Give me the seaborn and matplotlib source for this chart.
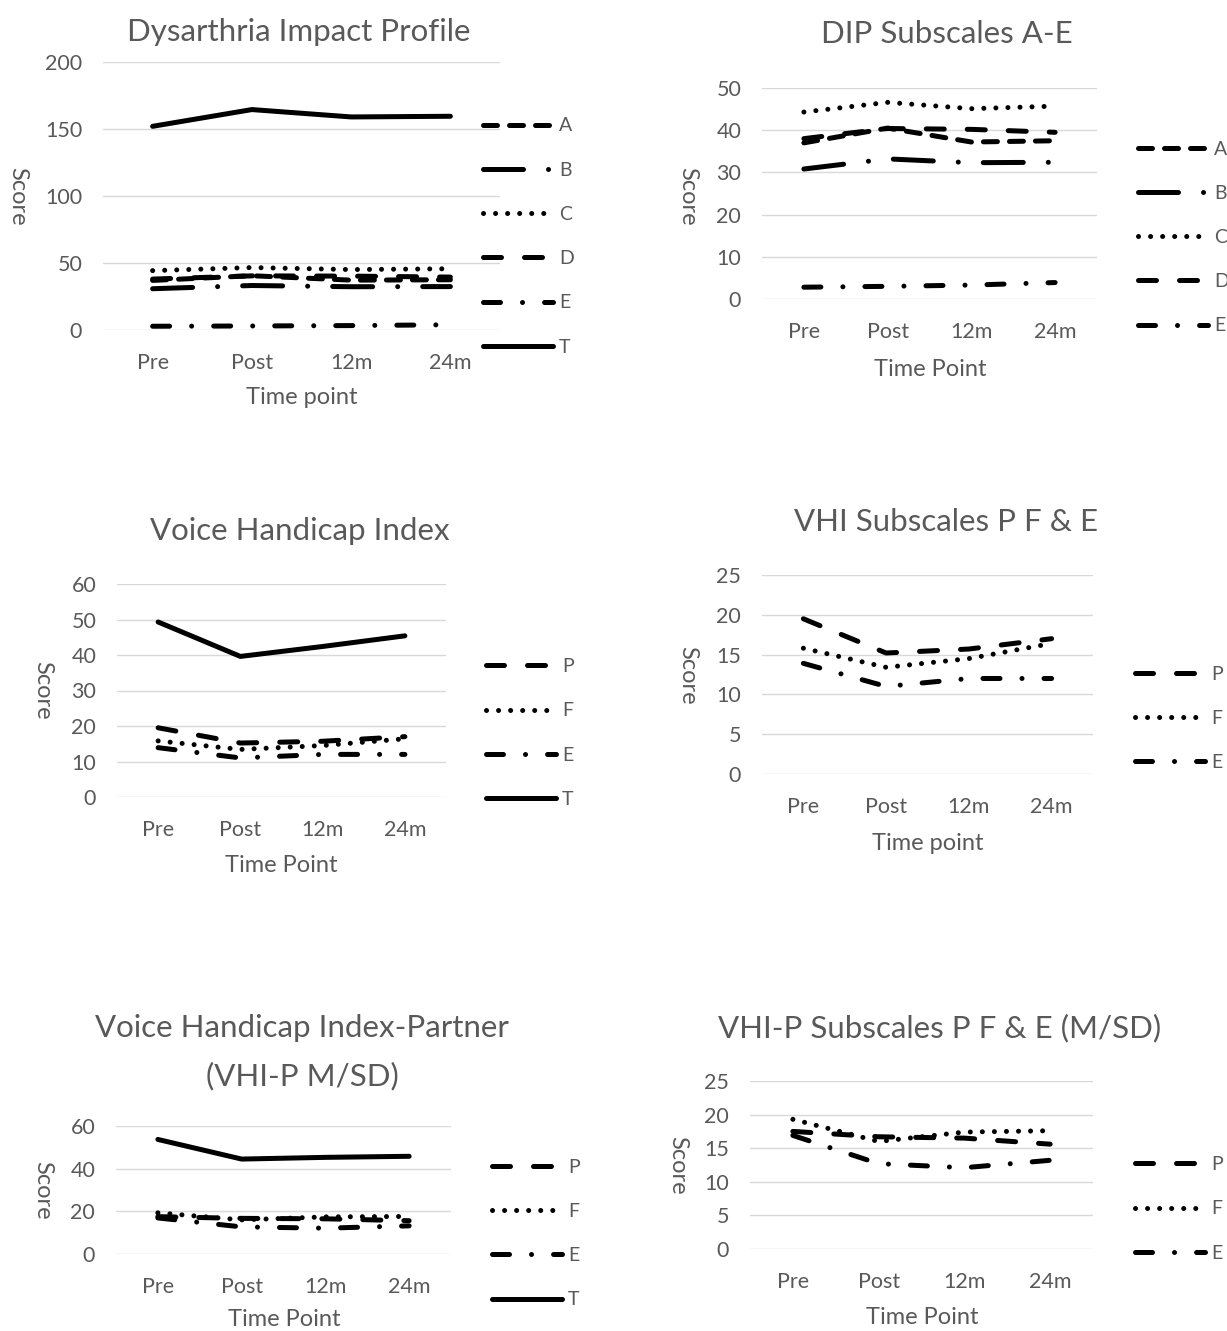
import matplotlib
matplotlib.use("Agg")
import matplotlib.pyplot as plt
import seaborn as sns

# ---------------- data ----------------
TIME = ["Pre", "Post", "12m", "24m"]

# Dysarthria Impact Profile (subscales A-E and total T)
DIP_A = [37.0, 40.5, 37.2, 37.5]
DIP_B = [30.8, 33.2, 32.3, 32.4]
DIP_C = [44.3, 46.6, 45.1, 45.7]
DIP_D = [38.0, 40.4, 40.2, 39.5]
DIP_E = [2.8, 3.0, 3.3, 3.9]
DIP_T = [152.0, 164.5, 159.0, 159.5]

# Voice Handicap Index (subscales P, F, E and total T)
VHI_P = [19.5, 15.2, 15.7, 17.0]
VHI_F = [15.8, 13.4, 14.5, 16.4]
VHI_E = [13.9, 11.0, 12.0, 12.0]
VHI_T = [49.3, 39.6, 42.4, 45.4]

# Voice Handicap Index - Partner (subscales P, F, E and total T)
VHIP_P = [17.5, 16.7, 16.5, 15.6]
VHIP_F = [19.3, 16.0, 17.4, 17.6]
VHIP_E = [16.9, 12.7, 12.1, 13.2]
VHIP_T = [53.7, 44.5, 45.3, 45.8]

# ---------------- style ----------------
sns.set_theme(style="white")
plt.rcParams["font.family"] = ["Lato", "DejaVu Sans"]
GRAY = "#595959"
GRID = "#d9d9d9"
LW = 3.6

DASH = {
    "A": (2.8, 2.4),                 # dash
    "B": (8.0, 5.0, 0.01, 5.0),      # long dash dot
    "C": (0.01, 2.4),                # round dot
    "D": (3.6, 4.6),                 # long dash
    "E": (3.4, 4.4, 0.01, 4.4),      # long dash dot
    "T": None,                       # solid
    "P": (3.6, 4.6),
    "F": (0.01, 2.4),
}

W, H = 1227, 1331
fig = plt.figure(figsize=(W / 100, H / 100), dpi=100)


def fx(x):
    return x / W


def fy(y):
    return 1 - y / H


def panel(box, ylim, ystep, series, title, title_xy, xlabel, xlabel_xy,
          ylabel_xy, legend_xy, title_lines=None):
    left, right, top, bottom = box
    ax = fig.add_axes([fx(left), fy(bottom), (right - left) / W, (bottom - top) / H])
    for name, vals in series:
        sns.lineplot(x=TIME, y=vals, ax=ax, color="black", linewidth=LW,
                     label=name, sort=False, clip_on=False)
        line = ax.lines[-1]
        line.set_solid_capstyle("round")
        line.set_dash_capstyle("round")
        if DASH[name] is not None:
            line.set_dashes(DASH[name])
    ax.set_xlim(-0.5, len(TIME) - 0.5)
    ax.set_ylim(0, ylim)
    ax.set_yticks(range(0, ylim + 1, ystep))
    ax.set_xlabel("")
    ax.set_ylabel("")
    for s in ax.spines.values():
        s.set_visible(False)
    ax.yaxis.grid(True, color=GRID, linewidth=1.0)
    ax.xaxis.grid(False)
    ax.set_axisbelow(True)
    ax.tick_params(axis="y", length=0, pad=15, labelsize=15.5, labelcolor=GRAY)
    ax.tick_params(axis="x", length=0, pad=16.5, labelsize=15.5, labelcolor=GRAY)

    handles, labels = ax.get_legend_handles_labels()
    ax.legend(handles, labels, loc="center left",
              bbox_to_anchor=(fx(legend_xy[0]), fy(legend_xy[1])),
              bbox_transform=fig.transFigure, frameon=False, fontsize=14,
              handlelength=3.6, handletextpad=0.3, labelspacing=1.4,
              borderpad=0, borderaxespad=0, labelcolor=GRAY)

    if title_lines is None:
        fig.text(fx(title_xy[0]), fy(title_xy[1]), title, ha="center",
                 va="center", fontsize=22.5, color=GRAY)
    else:
        for t, (tx, ty) in title_lines:
            fig.text(fx(tx), fy(ty), t, ha="center", va="center",
                     fontsize=22.5, color=GRAY)
    fig.text(fx(xlabel_xy[0]), fy(xlabel_xy[1]), xlabel, ha="center",
             va="center", fontsize=17, color=GRAY)
    fig.text(fx(ylabel_xy[0]), fy(ylabel_xy[1]), "Score", ha="center",
             va="center", fontsize=17, color=GRAY, rotation=-90)
    return ax


panel((103, 500, 62, 330), 200, 50,
      [("A", DIP_A), ("B", DIP_B), ("C", DIP_C), ("D", DIP_D), ("E", DIP_E), ("T", DIP_T)],
      "Dysarthria Impact Profile", (299, 32), "Time point", (302, 397),
      (18, 196), (483, 236.5))

panel((762, 1097, 88, 299), 50, 10,
      [("A", DIP_A), ("B", DIP_B), ("C", DIP_C), ("D", DIP_D), ("E", DIP_E)],
      "DIP Subscales A-E", (947, 34), "Time Point", (930, 369),
      (688, 196), (1138, 237.5))

panel((117, 446, 584, 797), 60, 10,
      [("P", VHI_P), ("F", VHI_F), ("E", VHI_E), ("T", VHI_T)],
      "Voice Handicap Index", (300, 531), "Time Point", (281, 866),
      (43, 690), (486, 733))

panel((762, 1093, 575, 774), 25, 5,
      [("P", VHI_P), ("F", VHI_F), ("E", VHI_E)],
      "VHI Subscales P F & E", (946, 522), "Time point", (928, 843),
      (688, 675), (1135, 718.5))

panel((116, 451, 1126, 1254), 60, 20,
      [("P", VHIP_P), ("F", VHIP_F), ("E", VHIP_E), ("T", VHIP_T)],
      None, None, "Time Point", (284, 1320),
      (43, 1190), (492, 1233.5),
      title_lines=[("Voice Handicap Index-Partner", (302, 1028)),
                   ("(VHI-P M/SD)", (302, 1076))])

panel((750, 1093, 1081, 1249), 25, 5,
      [("P", VHIP_P), ("F", VHIP_F), ("E", VHIP_E)],
      "VHI-P Subscales P F & E (M/SD)", (940, 1028), "Time Point", (922, 1318),
      (678, 1165), (1135, 1209))

fig.savefig("out.png", dpi=100, facecolor="white")
